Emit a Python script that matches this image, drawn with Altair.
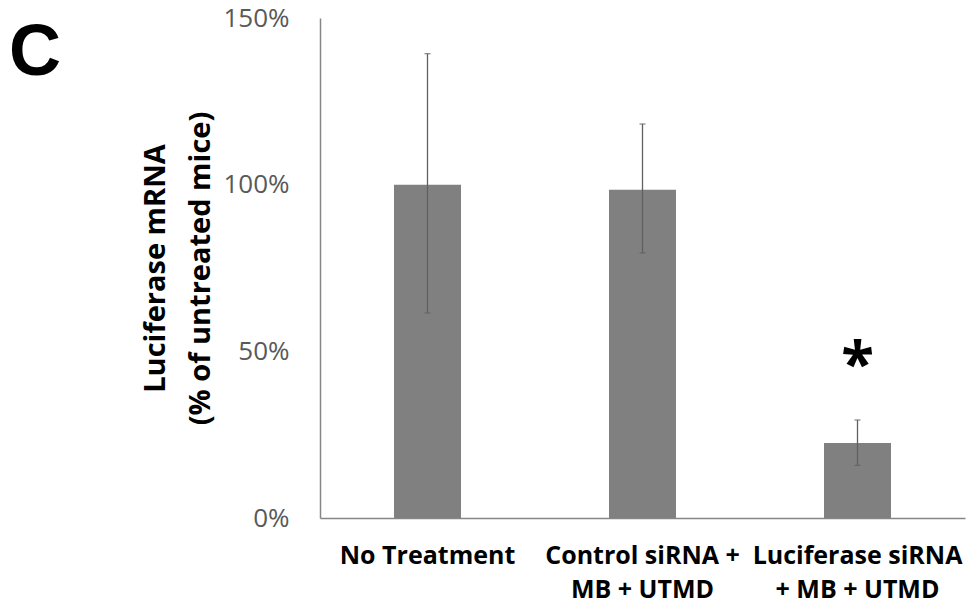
import altair as alt
import pandas as pd

categories = ["No Treatment", "Control siRNA +|MB + UTMD", "Luciferase siRNA|+ MB + UTMD"]
values = [1.00, 0.985, 0.225]
err_low = [0.615, 0.795, 0.158]
err_high = [1.393, 1.182, 0.294]
sig = ["", "", "*"]

df = pd.DataFrame({"cat": categories, "val": values, "lo": err_low, "hi": err_high, "sig": sig})

FONT = "Open Sans"
xenc = alt.X("cat:N", sort=categories, title=None,
             scale=alt.Scale(paddingInner=0, paddingOuter=0),
             axis=alt.Axis(labelExpr="split(datum.label, '|')", labelAngle=0,
                           labelFontSize=25, labelFontWeight="bold", labelColor="black",
                           labelFont=FONT, labelLineHeight=34, labelPadding=25, labelLimit=0,
                           ticks=False, domainColor="#868686", domainWidth=1.5))

base = alt.Chart(df)

bars = base.mark_bar(size=67, color="#808080").encode(
    x=xenc,
    y=alt.Y("val:Q", scale=alt.Scale(domain=[0, 1.5], nice=False),
            title=["Luciferase mRNA", "(% of untreated mice)"],
            axis=alt.Axis(values=[0, 0.5, 1.0, 1.5], format=".0%", grid=False, ticks=False,
                          labelFontSize=26, labelColor="#595959", labelFont=FONT, labelPadding=31,
                          domainColor="#868686", domainWidth=1.5,
                          titleFont=FONT, titleFontSize=29, titleFontWeight="bold",
                          titleColor="black", titleLineHeight=45, titlePadding=7))
)

rules = base.mark_rule(color="#606060", strokeWidth=1.3).encode(
    x=alt.X("cat:N", sort=categories), y="lo:Q", y2="hi:Q")
caps_hi = base.mark_tick(color="#606060", size=6, thickness=1.3, orient="horizontal").encode(
    x=alt.X("cat:N", sort=categories), y="hi:Q")
caps_lo = base.mark_tick(color="#606060", size=6, thickness=1.3, orient="horizontal").encode(
    x=alt.X("cat:N", sort=categories), y="lo:Q")

star = base.mark_text(fontSize=60, fontWeight="bold", font=FONT, color="black",
                      baseline="alphabetic", dy=-35).encode(
    x=alt.X("cat:N", sort=categories), y="hi:Q", text="sig:N")

panel = alt.Chart(pd.DataFrame({"t": ["C"]})).mark_text(
    fontSize=72, fontWeight="bold", font="Liberation Sans", color="black",
    align="left", baseline="alphabetic").encode(
    text="t:N", x=alt.value(-311), y=alt.value(57))

chart = alt.layer(bars, rules, caps_hi, caps_lo, star, panel).properties(
    width=645, height=500,
    autosize=alt.AutoSizeParams(type="none"),
    padding={"left": 312, "top": 10, "right": 6, "bottom": 89},
).configure_view(stroke=None)

chart.save("out.html", embed_options={"renderer": "svg", "actions": False})
